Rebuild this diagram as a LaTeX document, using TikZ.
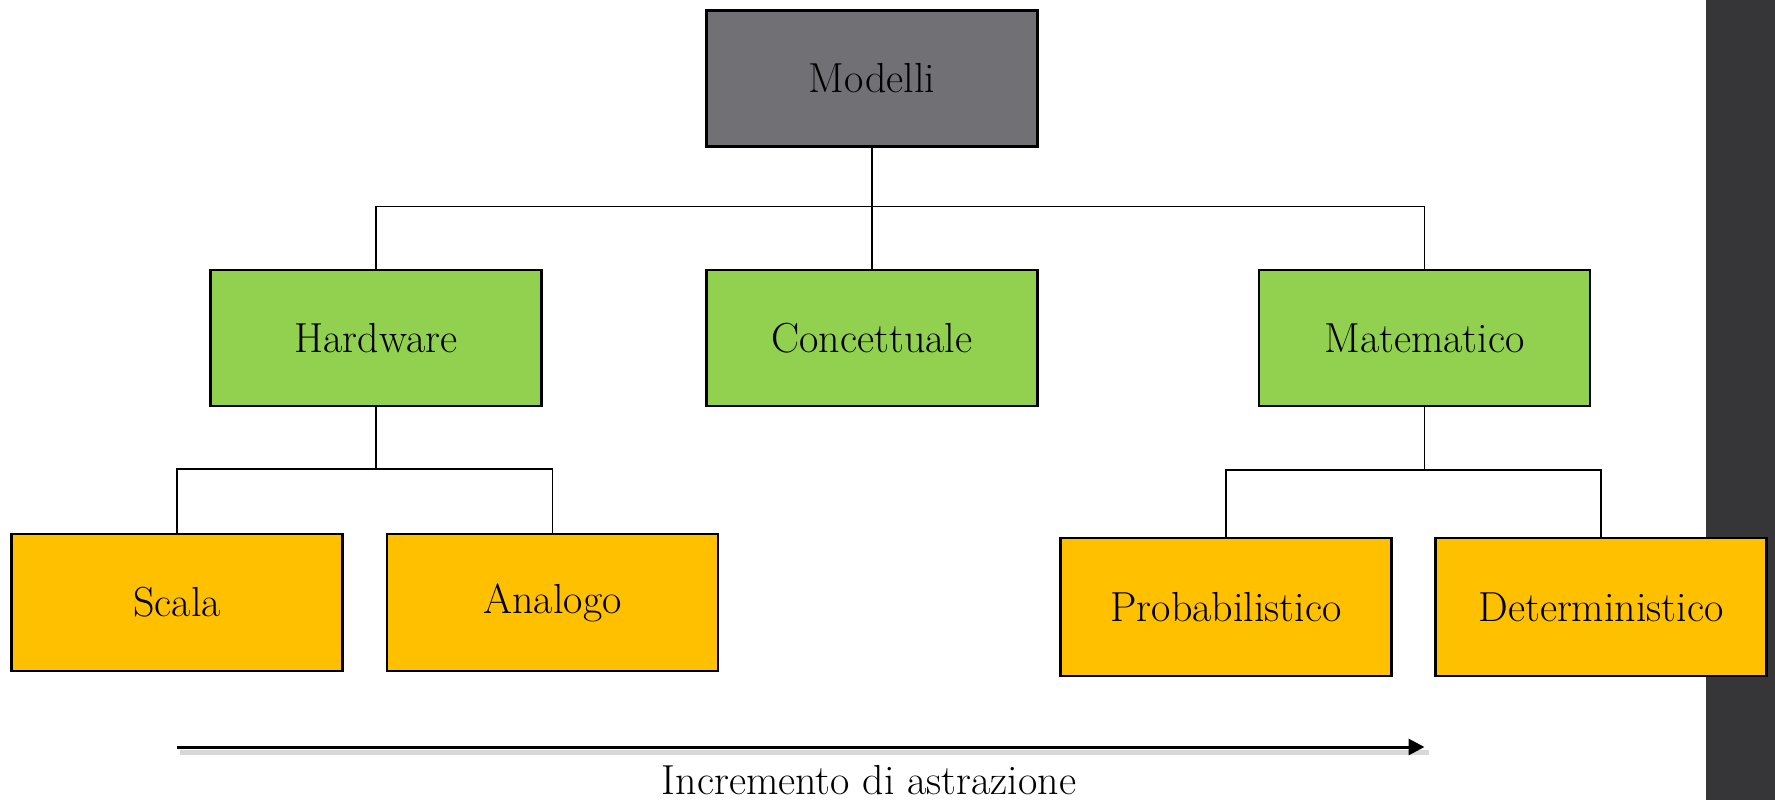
\documentclass[tikz,border=0pt]{standalone}
\usetikzlibrary{arrows.meta}
\definecolor{topgray}{HTML}{717075}
\definecolor{midgreen}{HTML}{92D050}
\definecolor{lowyellow}{HTML}{FFC000}
\definecolor{darkbar}{HTML}{363638}
\begin{document}
\begin{tikzpicture}[x=1pt,y=-1pt,
  box/.style={draw=black,line width=2.5pt,inner sep=0pt,minimum width=331pt,minimum height=136pt,font=\fontsize{42}{50}\selectfont},
  topbox/.style={box,fill=topgray},
  greenbox/.style={box,fill=midgreen},
  yellowbox/.style={box,fill=lowyellow,minimum height=137pt},
  conn/.style={draw=black,line width=1.5pt},
  abstr/.style={draw=black,line width=3pt,-{Triangle[length=16pt,width=16pt]}},
  shadowline/.style={draw=black!30,line width=5pt,opacity=0.5}]
\useasboundingbox (0,0) rectangle (1775,800);
\fill[white] (0,0) rectangle (1775,800);
\fill[darkbar] (1706,0) rectangle (1775,800);

\node[topbox] (mod) at (872,78.5) {Modelli};
\node[greenbox] (hw) at (376,338) {Hardware};
\node[greenbox] (con) at (872,338) {Concettuale};
\node[greenbox] (mat) at (1424.5,338) {Matematico};
\node[yellowbox] (sca) at (177,602.5) {Scala};
\node[yellowbox] (ana) at (552.5,602.5) {Analogo};
\node[yellowbox,minimum height=138pt] (pro) at (1226,607) {Probabilistico};
\node[yellowbox,minimum height=138pt] (det) at (1601,607) {Deterministico};

\draw[conn] (mod.south) -- (con.north);
\draw[conn] (hw.north) -- ++(0,-62.5) -| (mat.north);
\draw[conn] (hw.south) -- ++(0,61.5) coordinate (hwbus);
\draw[conn] (sca.north) |- (hwbus) -| (ana.north);
\draw[conn] (mat.south) -- ++(0,62.5) coordinate (matbus);
\draw[conn] (pro.north) |- (matbus) -| (det.north);

\coordinate (arrS) at (sca.center |- 0,747);
\coordinate (arrE) at (mat.center |- 0,747);
\draw[shadowline] ([yshift=-5pt,xshift=3pt]arrS) -- ([yshift=-5pt,xshift=4pt]arrE);
\draw[abstr] (arrS) -- (arrE);
\node[font=\fontsize{42}{50}\selectfont] (lab) at (869,780) {Incremento di astrazione};
\end{tikzpicture}
\end{document}
